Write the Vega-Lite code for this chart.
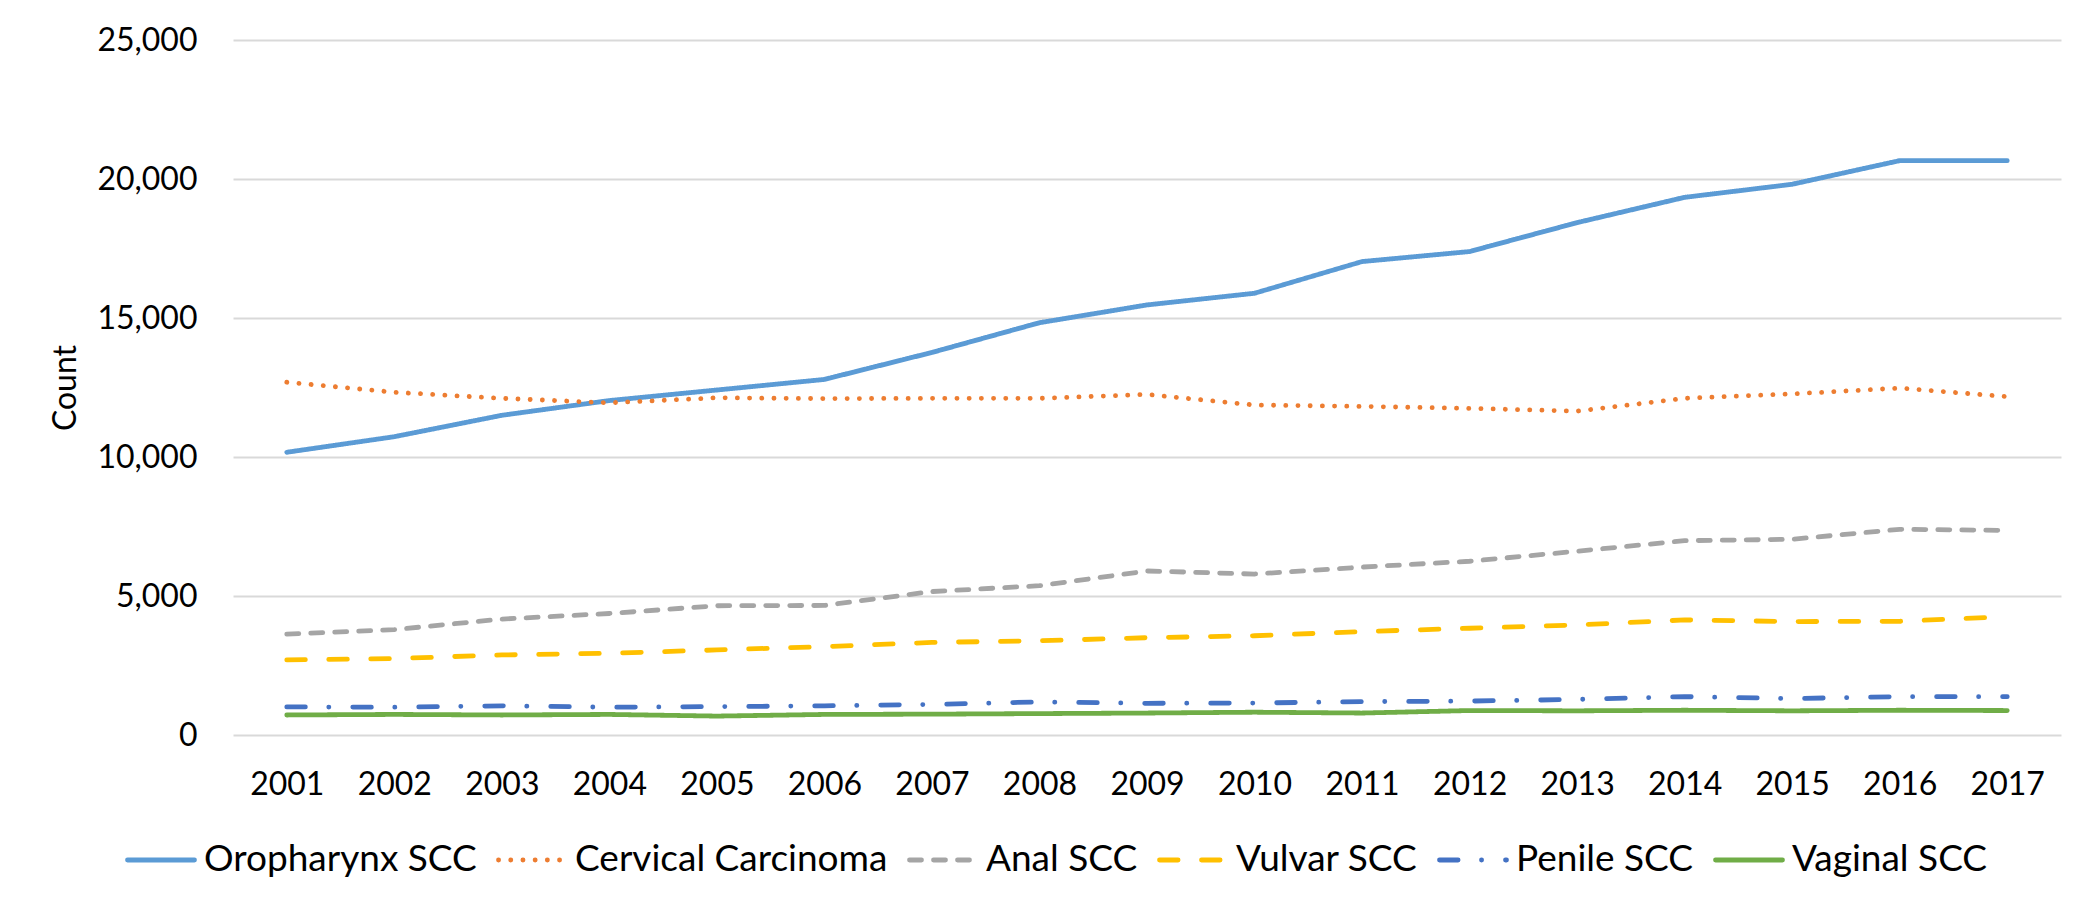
{
  "$schema": "https://vega.github.io/schema/vega-lite/v6.json",
  "width": 1828,
  "height": 695,
  "autosize": {"type": "none"},
  "padding": {"left": 233, "top": 40, "right": 21, "bottom": 166},
  "background": "white",
  "config": {
    "view": {"stroke": null},
    "font": "Lato",
    "legend": {
      "orient": "none",
      "legendX": -108,
      "legendY": 784,
      "direction": "horizontal",
      "columns": 6,
      "title": null,
      "symbolType": "stroke",
      "symbolSize": 4489,
      "symbolStrokeWidth": 4.8,
      "labelFont": "Lato",
      "labelFontSize": 37,
      "labelColor": "#000000",
      "labelOffset": 7,
      "columnPadding": 11,
      "labelLimit": 0
    }
  },
  "data": {
    "values": [
      {"series": "Oropharynx SCC", "year": "2001", "count": 10170},
      {"series": "Oropharynx SCC", "year": "2002", "count": 10730},
      {"series": "Oropharynx SCC", "year": "2003", "count": 11500},
      {"series": "Oropharynx SCC", "year": "2004", "count": 12030},
      {"series": "Oropharynx SCC", "year": "2005", "count": 12410},
      {"series": "Oropharynx SCC", "year": "2006", "count": 12790},
      {"series": "Oropharynx SCC", "year": "2007", "count": 13760},
      {"series": "Oropharynx SCC", "year": "2008", "count": 14830},
      {"series": "Oropharynx SCC", "year": "2009", "count": 15470},
      {"series": "Oropharynx SCC", "year": "2010", "count": 15890},
      {"series": "Oropharynx SCC", "year": "2011", "count": 17030},
      {"series": "Oropharynx SCC", "year": "2012", "count": 17390},
      {"series": "Oropharynx SCC", "year": "2013", "count": 18430},
      {"series": "Oropharynx SCC", "year": "2014", "count": 19340},
      {"series": "Oropharynx SCC", "year": "2015", "count": 19810},
      {"series": "Oropharynx SCC", "year": "2016", "count": 20660},
      {"series": "Oropharynx SCC", "year": "2017", "count": 20660},
      {"series": "Cervical Carcinoma", "year": "2001", "count": 12690},
      {"series": "Cervical Carcinoma", "year": "2002", "count": 12330},
      {"series": "Cervical Carcinoma", "year": "2003", "count": 12110},
      {"series": "Cervical Carcinoma", "year": "2004", "count": 11950},
      {"series": "Cervical Carcinoma", "year": "2005", "count": 12130},
      {"series": "Cervical Carcinoma", "year": "2006", "count": 12100},
      {"series": "Cervical Carcinoma", "year": "2007", "count": 12110},
      {"series": "Cervical Carcinoma", "year": "2008", "count": 12110},
      {"series": "Cervical Carcinoma", "year": "2009", "count": 12250},
      {"series": "Cervical Carcinoma", "year": "2010", "count": 11870},
      {"series": "Cervical Carcinoma", "year": "2011", "count": 11820},
      {"series": "Cervical Carcinoma", "year": "2012", "count": 11750},
      {"series": "Cervical Carcinoma", "year": "2013", "count": 11650},
      {"series": "Cervical Carcinoma", "year": "2014", "count": 12110},
      {"series": "Cervical Carcinoma", "year": "2015", "count": 12270},
      {"series": "Cervical Carcinoma", "year": "2016", "count": 12480},
      {"series": "Cervical Carcinoma", "year": "2017", "count": 12170},
      {"series": "Anal SCC", "year": "2001", "count": 3630},
      {"series": "Anal SCC", "year": "2002", "count": 3790},
      {"series": "Anal SCC", "year": "2003", "count": 4170},
      {"series": "Anal SCC", "year": "2004", "count": 4370},
      {"series": "Anal SCC", "year": "2005", "count": 4650},
      {"series": "Anal SCC", "year": "2006", "count": 4660},
      {"series": "Anal SCC", "year": "2007", "count": 5160},
      {"series": "Anal SCC", "year": "2008", "count": 5370},
      {"series": "Anal SCC", "year": "2009", "count": 5900},
      {"series": "Anal SCC", "year": "2010", "count": 5790},
      {"series": "Anal SCC", "year": "2011", "count": 6040},
      {"series": "Anal SCC", "year": "2012", "count": 6250},
      {"series": "Anal SCC", "year": "2013", "count": 6610},
      {"series": "Anal SCC", "year": "2014", "count": 6990},
      {"series": "Anal SCC", "year": "2015", "count": 7040},
      {"series": "Anal SCC", "year": "2016", "count": 7400},
      {"series": "Anal SCC", "year": "2017", "count": 7360},
      {"series": "Vulvar SCC", "year": "2001", "count": 2700},
      {"series": "Vulvar SCC", "year": "2002", "count": 2750},
      {"series": "Vulvar SCC", "year": "2003", "count": 2880},
      {"series": "Vulvar SCC", "year": "2004", "count": 2940},
      {"series": "Vulvar SCC", "year": "2005", "count": 3060},
      {"series": "Vulvar SCC", "year": "2006", "count": 3180},
      {"series": "Vulvar SCC", "year": "2007", "count": 3330},
      {"series": "Vulvar SCC", "year": "2008", "count": 3390},
      {"series": "Vulvar SCC", "year": "2009", "count": 3500},
      {"series": "Vulvar SCC", "year": "2010", "count": 3570},
      {"series": "Vulvar SCC", "year": "2011", "count": 3720},
      {"series": "Vulvar SCC", "year": "2012", "count": 3840},
      {"series": "Vulvar SCC", "year": "2013", "count": 3960},
      {"series": "Vulvar SCC", "year": "2014", "count": 4140},
      {"series": "Vulvar SCC", "year": "2015", "count": 4080},
      {"series": "Vulvar SCC", "year": "2016", "count": 4090},
      {"series": "Vulvar SCC", "year": "2017", "count": 4260},
      {"series": "Penile SCC", "year": "2001", "count": 1010},
      {"series": "Penile SCC", "year": "2002", "count": 1000},
      {"series": "Penile SCC", "year": "2003", "count": 1050},
      {"series": "Penile SCC", "year": "2004", "count": 1000},
      {"series": "Penile SCC", "year": "2005", "count": 1020},
      {"series": "Penile SCC", "year": "2006", "count": 1050},
      {"series": "Penile SCC", "year": "2007", "count": 1100},
      {"series": "Penile SCC", "year": "2008", "count": 1190},
      {"series": "Penile SCC", "year": "2009", "count": 1140},
      {"series": "Penile SCC", "year": "2010", "count": 1150},
      {"series": "Penile SCC", "year": "2011", "count": 1200},
      {"series": "Penile SCC", "year": "2012", "count": 1220},
      {"series": "Penile SCC", "year": "2013", "count": 1280},
      {"series": "Penile SCC", "year": "2014", "count": 1380},
      {"series": "Penile SCC", "year": "2015", "count": 1310},
      {"series": "Penile SCC", "year": "2016", "count": 1380},
      {"series": "Penile SCC", "year": "2017", "count": 1380},
      {"series": "Vaginal SCC", "year": "2001", "count": 720},
      {"series": "Vaginal SCC", "year": "2002", "count": 740},
      {"series": "Vaginal SCC", "year": "2003", "count": 720},
      {"series": "Vaginal SCC", "year": "2004", "count": 740},
      {"series": "Vaginal SCC", "year": "2005", "count": 680},
      {"series": "Vaginal SCC", "year": "2006", "count": 740},
      {"series": "Vaginal SCC", "year": "2007", "count": 750},
      {"series": "Vaginal SCC", "year": "2008", "count": 770},
      {"series": "Vaginal SCC", "year": "2009", "count": 790},
      {"series": "Vaginal SCC", "year": "2010", "count": 820},
      {"series": "Vaginal SCC", "year": "2011", "count": 790},
      {"series": "Vaginal SCC", "year": "2012", "count": 880},
      {"series": "Vaginal SCC", "year": "2013", "count": 870},
      {"series": "Vaginal SCC", "year": "2014", "count": 890},
      {"series": "Vaginal SCC", "year": "2015", "count": 870},
      {"series": "Vaginal SCC", "year": "2016", "count": 890},
      {"series": "Vaginal SCC", "year": "2017", "count": 880}
    ]
  },
  "mark": {"type": "line", "strokeWidth": 4.8, "strokeCap": "round", "strokeJoin": "round"},
  "encoding": {
    "x": {
      "field": "year",
      "type": "ordinal",
      "scale": {"type": "point", "padding": 0.5},
      "axis": {
        "title": null,
        "labelAngle": 0,
        "labelFont": "Lato",
        "labelFontSize": 32,
        "labelColor": "#000000",
        "labelPadding": 34,
        "ticks": false,
        "domain": false,
        "grid": false
      }
    },
    "y": {
      "field": "count",
      "type": "quantitative",
      "scale": {"domain": [0, 25000], "nice": false},
      "axis": {
        "title": "Count",
        "titleFont": "Lato",
        "titleFontSize": 32,
        "titleFontWeight": "normal",
        "titleColor": "#000000",
        "titlePadding": 14,
        "values": [0, 5000, 10000, 15000, 20000, 25000],
        "format": ",d",
        "labelFont": "Lato",
        "labelFontSize": 32,
        "labelColor": "#000000",
        "labelPadding": 36,
        "ticks": false,
        "domain": false,
        "grid": true,
        "gridColor": "#D9D9D9",
        "gridWidth": 2
      }
    },
    "color": {
      "field": "series",
      "type": "nominal",
      "sort": ["Oropharynx SCC", "Cervical Carcinoma", "Anal SCC", "Vulvar SCC", "Penile SCC", "Vaginal SCC"],
      "scale": {
        "domain": ["Oropharynx SCC", "Cervical Carcinoma", "Anal SCC", "Vulvar SCC", "Penile SCC", "Vaginal SCC"],
        "range": ["#5B9BD5", "#ED7D31", "#A5A5A5", "#FFC000", "#4472C4", "#70AD47"]
      },
      "legend": {
        "title": null,
        "encode": {"symbols": {"update": {"strokeCap": {"value": "round"}}}}
      }
    },
    "strokeDash": {
      "field": "series",
      "type": "nominal",
      "sort": ["Oropharynx SCC", "Cervical Carcinoma", "Anal SCC", "Vulvar SCC", "Penile SCC", "Vaginal SCC"],
      "scale": {
        "domain": ["Oropharynx SCC", "Cervical Carcinoma", "Anal SCC", "Vulvar SCC", "Penile SCC", "Vaginal SCC"],
        "range": [[1, 0], [0.1, 12.1], [12, 12], [18.6, 23.4], [18.6, 23.4, 0.1, 23.9], [1, 0]]
      },
      "legend": {
        "title": null,
        "encode": {"symbols": {"update": {"strokeCap": {"value": "round"}}}}
      }
    }
  }
}
